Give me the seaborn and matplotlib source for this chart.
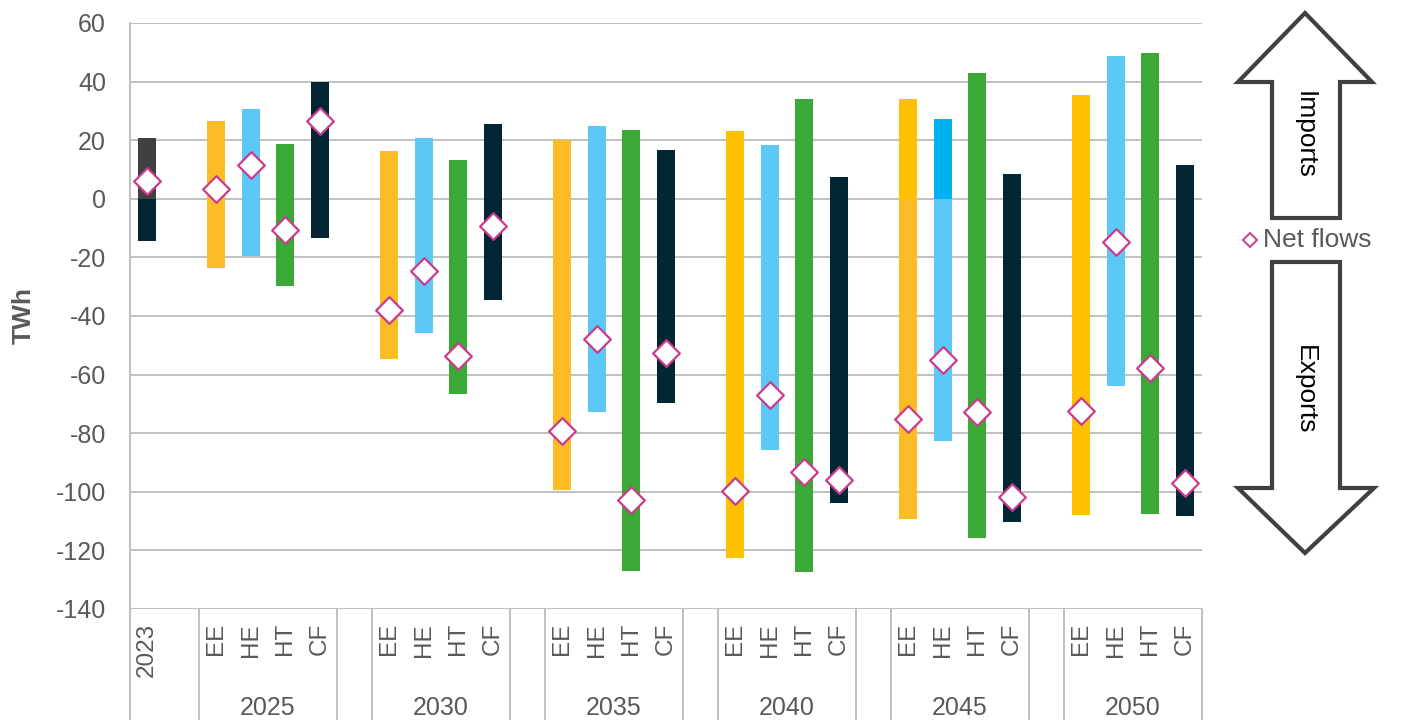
import numpy as np
import pandas as pd
import matplotlib
matplotlib.use("Agg")
import matplotlib.pyplot as plt
from matplotlib.patches import Polygon
from matplotlib.lines import Line2D
from matplotlib.transforms import blended_transform_factory
import seaborn as sns

# ---- data (TWh) ---------------------------------------------------------
years = ["2023", "2025", "2030", "2035", "2040", "2045", "2050"]
scenarios = ["EE", "HE", "HT", "CF"]

imports = [20.7,
           26.7, 30.8, 18.8, 39.8,
           16.4, 20.9, 13.1, 25.4,
           20.1, 24.7, 23.5, 16.8,
           23.0, 18.5, 33.9, 7.6,
           33.9, 27.2, 43.1, 8.3,
           35.3, 48.9, 49.9, 11.7]
exports = [-14.5,
           -23.7, -19.4, -29.8, -13.5,
           -54.7, -45.9, -66.7, -34.6,
           -99.3, -72.8, -126.9, -69.6,
           -122.7, -85.7, -127.4, -103.9,
           -109.4, -82.5, -115.8, -110.4,
           -108.0, -64.0, -107.7, -108.3]
net_flows = [6.2,
             3.2, 11.4, -10.6, 26.5,
             -38.1, -24.6, -53.6, -9.2,
             -79.1, -47.8, -102.7, -52.6,
             -99.6, -66.9, -93.3, -96.1,
             -75.2, -55.0, -72.6, -101.8,
             -72.3, -14.8, -57.7, -96.9]

# ---- colours -------------------------------------------------------------
scenario_colors = {"EE": "#FBBC25", "HE": "#5BC8F5", "HT": "#3AA935", "CF": "#022634"}
import_override = {"2023": "#404040", "2040 EE": "#FFC000", "2045 EE": "#FFC000",
                   "2050 EE": "#FFC000", "2045 HE": "#00B0F0"}
export_override = {"2023": "#022634", "2040 EE": "#FFC000", "2050 EE": "#FFC000"}

# ---- category layout: 2023, spacer, then 4 scenarios per year with spacers
keys, positions, tick_labels = [], [], []
pos = 0
keys.append("2023"); positions.append(pos); tick_labels.append("2023")
pos += 2
group_centers = []
for y in years[1:]:
    start = pos
    for s in scenarios:
        keys.append(f"{y} {s}"); positions.append(pos); tick_labels.append(s)
        pos += 1
    group_centers.append((start + pos - 1) / 2)
    pos += 1
last_slot = positions[-1]

def base_color(k):
    return "#404040" if k == "2023" else scenario_colors[k.split()[1]]

imp_pal = {k: import_override.get(k, base_color(k)) for k in keys}
exp_pal = {k: export_override.get(k, base_color(k)) for k in keys}

df = pd.DataFrame({"key": keys, "pos": positions, "imports": imports,
                   "exports": exports, "net": net_flows})

# ---- figure ----------------------------------------------------------------
sns.set_theme(style="white")
plt.rcParams["font.family"] = ["Liberation Sans", "DejaVu Sans"]
plt.rcParams["axes.unicode_minus"] = False
W, H = 1401, 720
fig = plt.figure(figsize=(W / 100, H / 100), dpi=100)
ax = fig.add_axes([129.5 / W, 1 - 609 / H, (1202 - 129.5) / W, (609 - 23) / H])

grey_txt = "#595959"
grid_c = "#C0C0C0"

common = dict(x="pos", hue="key", native_scale=True, width=0.52,
              saturation=1, errorbar=None, legend=False, ax=ax, zorder=2)
sns.barplot(data=df, y="imports", palette=imp_pal, **common)
sns.barplot(data=df, y="exports", palette=exp_pal, **common)
for p in ax.patches:
    p.set_edgecolor("none")

sns.scatterplot(data=df, x="pos", y="net", marker="D", s=185, color="white",
                edgecolor="#CC3A8E", linewidth=1.6, zorder=4, ax=ax, legend=False)

ax.set_xlim(-0.5, last_slot + 0.5)
ax.set_ylim(-140, 60)
ax.set_yticks(np.arange(-140, 61, 20))
ax.yaxis.grid(True, color=grid_c, linewidth=1.4)
ax.set_axisbelow(True)
for side in ["top", "right", "bottom"]:
    ax.spines[side].set_visible(False)
ax.spines["left"].set_color(grid_c)
ax.spines["left"].set_linewidth(1.4)
ax.tick_params(axis="y", length=0, pad=17, labelsize=18, labelcolor=grey_txt)

ax.set_xticks(positions)
ax.set_xticklabels(tick_labels, rotation=90, va="top", ha="center")
ax.tick_params(axis="x", length=0, pad=10, labelsize=17.5, labelcolor=grey_txt)
ax.set_xlabel("")
ax.set_ylabel("TWh", fontsize=19, fontweight="bold", color=grey_txt)
ax.yaxis.set_label_coords((36 - 129.5) / (1202 - 129.5), 0.5)

# category-axis separators below the plot
bt = blended_transform_factory(ax.transData, ax.transAxes)
y_low = -(720 - 609) / (609 - 23)
seps = [-0.5, 1.5]
for c in group_centers:
    seps += [c + 2.0, c + 3.0]
seps = sorted(set(s for s in seps if s <= last_slot + 0.5))
for s in seps:
    ax.plot([s, s], [0, y_low], transform=bt, color=grid_c, linewidth=1.4,
            clip_on=False, zorder=1)
for c, y in zip(group_centers, years[1:]):
    ax.text(c, (609 - 708) / (609 - 23), y, transform=bt, ha="center", va="center",
            fontsize=18, color=grey_txt)

# import / export arrows and legend at the right
def fig_xy(pts):
    return [(x / W, 1 - y / H) for x, y in pts]

up = fig_xy([(1305, 13), (1372, 82), (1340, 82), (1340, 218), (1272, 218),
             (1272, 82), (1238, 82)])
down = fig_xy([(1272, 262), (1340, 262), (1340, 488), (1374, 488), (1305, 553),
               (1238, 488), (1272, 488)])
for pts in (up, down):
    fig.add_artist(Polygon(pts, closed=True, transform=fig.transFigure,
                           facecolor="white", edgecolor="#404040", linewidth=3,
                           joinstyle="miter"))
fig.text(1305 / W, 1 - 135 / H, "Imports", rotation=270, ha="center", va="center",
         fontsize=19, color="black")
fig.text(1305 / W, 1 - 390 / H, "Exports", rotation=270, ha="center", va="center",
         fontsize=19, color="black")
fig.add_artist(Line2D([1250 / W], [1 - 240 / H], marker="D", markersize=7.5,
                      markerfacecolor="white", markeredgecolor="#CC3A8E",
                      markeredgewidth=1.4, transform=fig.transFigure))
fig.text(1263 / W, 1 - 240 / H, "Net flows", ha="left", va="center",
         fontsize=19, color=grey_txt)

fig.savefig("out.png", dpi=100)
